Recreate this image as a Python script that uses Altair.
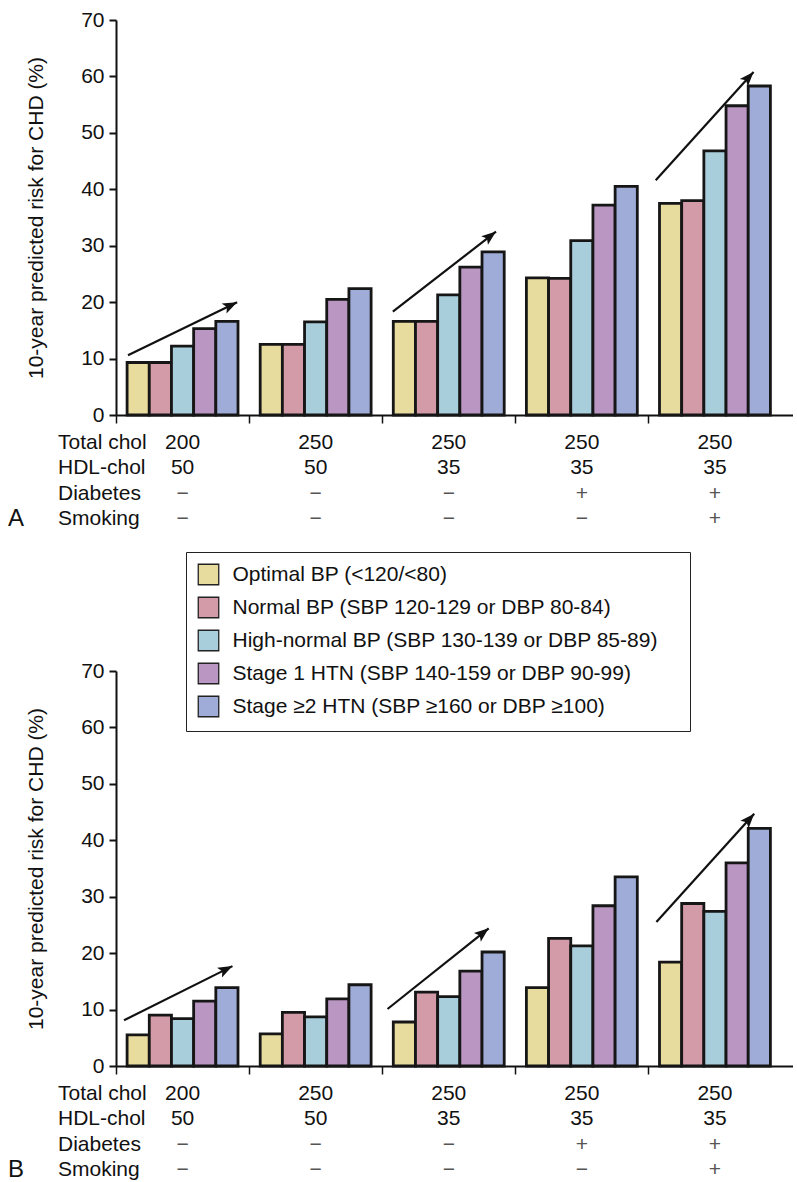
import math
import altair as alt
import pandas as pd

# ---------------- data ----------------
groups = ["1", "2", "3", "4", "5"]
series = [
    "Optimal BP (<120/<80)",
    "Normal BP (SBP 120-129 or DBP 80-84)",
    "High-normal BP (SBP 130-139 or DBP 85-89)",
    "Stage 1 HTN (SBP 140-159 or DBP 90-99)",
    "Stage \u22652 HTN (SBP \u2265160 or DBP \u2265100)",
]
colors = ["#E8DB9E", "#D39BA8", "#A8CEDC", "#BA96C2", "#9FACD8"]

a_optimal = [9.3, 12.5, 16.6, 24.3, 37.5]
a_normal = [9.3, 12.5, 16.6, 24.2, 38.0]
a_highnormal = [12.2, 16.5, 21.3, 30.9, 46.8]
a_stage1 = [15.3, 20.5, 26.2, 37.2, 54.8]
a_stage2 = [16.6, 22.4, 28.9, 40.5, 58.3]

b_optimal = [5.5, 5.7, 7.8, 13.9, 18.4]
b_normal = [9.0, 9.5, 13.1, 22.6, 28.8]
b_highnormal = [8.4, 8.7, 12.3, 21.3, 27.4]
b_stage1 = [11.5, 11.9, 16.8, 28.4, 36.0]
b_stage2 = [13.9, 14.4, 20.2, 33.5, 42.1]

# arrows: start/end in (group units, risk %)
a_arrow_x0 = [0.09, 2.08, 4.055]
a_arrow_y0 = [10.6, 18.3, 41.6]
a_arrow_x1 = [0.91, 2.855, 4.79]
a_arrow_y1 = [20.0, 32.5, 60.8]

b_arrow_x0 = [0.06, 2.04, 4.06]
b_arrow_y0 = [8.1, 10.1, 25.5]
b_arrow_x1 = [0.875, 2.80, 4.795]
b_arrow_y1 = [17.7, 24.4, 44.7]

row_labels = ["Total chol", "HDL-chol", "Diabetes", "Smoking"]
total_chol = ["200", "250", "250", "250", "250"]
hdl_chol = ["50", "50", "35", "35", "35"]
diabetes = ["\u2212", "\u2212", "\u2212", "+", "+"]
smoking = ["\u2212", "\u2212", "\u2212", "\u2212", "+"]

y_ticks = [0, 10, 20, 30, 40, 50, 60, 70]
YT = "10-year predicted risk for CHD (%)"

# ---------------- layout constants ----------------
W = 677
H = 395
OUTER = 0.0432
XMAX = len(groups) + 2 * OUTER
FONT = "Liberation Sans"
FS = 21
INK = "#111111"


def group_scale():
    return alt.Scale(type="band", domain=groups, paddingInner=0, paddingOuter=OUTER, align=0)


def bar_df(lists):
    rows = []
    for s, vals in zip(series, lists):
        for g, v in zip(groups, vals):
            rows.append({"group": g, "bp": s, "risk": v})
    return pd.DataFrame(rows)


def arrow_df(x0, y0, x1, y1):
    gx = W / XMAX
    gy = H / 70.0
    ang = [math.degrees(math.atan2((b - a) * gx, (d - c) * gy))
           for a, b, c, d in zip(x0, x1, y0, y1)]
    return pd.DataFrame({"x0": x0, "y0": y0, "x1": x1, "y1": y1, "angle": ang})


def bars_chart(df, arrows, legend):
    yscale = alt.Scale(domain=[0, 70], nice=False)
    xq = alt.Scale(domain=[0, XMAX], nice=False, zero=False)
    bars = alt.Chart(df).mark_bar(stroke="#161616", strokeWidth=2.8).encode(
        x=alt.X("group:N", scale=group_scale(),
                axis=alt.Axis(labels=False, title=None, tickSize=8, tickWidth=1.5,
                              bandPosition=0, domainWidth=2, grid=False)),
        xOffset=alt.XOffset("bp:N", sort=series,
                            scale=alt.Scale(domain=series, paddingInner=0, paddingOuter=0.5)),
        y=alt.Y("risk:Q", scale=yscale, title=YT, axis=alt.Axis(values=y_ticks)),
        color=alt.Color("bp:N", sort=series,
                        scale=alt.Scale(domain=series, range=colors), legend=legend),
    )
    line = alt.Chart(arrows).mark_rule(color=INK, strokeWidth=2.2).encode(
        x=alt.X("x0:Q", scale=xq, axis=None),
        x2="x1:Q",
        y=alt.Y("y0:Q", scale=yscale, title=YT, axis=alt.Axis(values=y_ticks)),
        y2="y1:Q",
    )
    head = alt.Chart(arrows).mark_point(
        shape="M0,0 L0.8,2.1 L0,1.65 L-0.8,2.1 Z", filled=True, size=190,
        color=INK, opacity=1, strokeWidth=0,
    ).encode(
        x=alt.X("x1:Q", scale=xq, axis=None),
        y=alt.Y("y1:Q", scale=yscale, title=YT, axis=alt.Axis(values=y_ticks)),
        angle=alt.Angle("angle:Q", scale=None),
    )
    return alt.layer(bars, line, head).resolve_scale(x="independent").properties(
        width=W, height=H)


def table_chart(letter):
    recs = []
    for r, vals in zip(row_labels, [total_chol, hdl_chol, diabetes, smoking]):
        for g, v in zip(groups, vals):
            recs.append({"row": r, "group": g, "value": v})
    df = pd.DataFrame(recs)
    yrow = alt.Y("row:N", sort=row_labels,
                 scale=alt.Scale(type="band", domain=row_labels, paddingInner=0, paddingOuter=0),
                 axis=None)
    vals = alt.Chart(df).mark_text(fontSize=FS, baseline="middle").encode(
        x=alt.X("group:N", scale=group_scale(), axis=None),
        y=yrow,
        text="value:N",
        color=alt.condition("datum.row == 'Diabetes' || datum.row == 'Smoking'",
                            alt.value("#555555"), alt.value(INK)),
    )
    labels = alt.Chart(pd.DataFrame({"row": row_labels})).mark_text(
        align="left", baseline="middle", fontSize=FS, color=INK).encode(
        x=alt.value(-58), y=yrow, text="row:N")
    let = alt.Chart(pd.DataFrame({"row": [row_labels[-1]], "t": [letter]})).mark_text(
        align="left", baseline="middle", fontSize=24, color=INK).encode(
        x=alt.value(-108), y=yrow, text="t:N")
    return alt.layer(vals, labels, let).properties(width=W, height=102)


legend_b = alt.Legend(
    title="\u00a0", titleOrient="right", titlePadding=20, titleFontSize=6,
    orient="none", legendX=70, legendY=-119, direction="vertical",
    symbolType="square", symbolSize=420, symbolStrokeColor="#222222",
    symbolStrokeWidth=1.3, symbolOpacity=1, labelFontSize=FS, labelColor=INK,
    labelOffset=13, rowPadding=7, padding=11.5, strokeColor="#222222",
    fillColor="white", labelLimit=700,
)

panel_a = alt.vconcat(
    bars_chart(bar_df([a_optimal, a_normal, a_highnormal, a_stage1, a_stage2]),
               arrow_df(a_arrow_x0, a_arrow_y0, a_arrow_x1, a_arrow_y1), None),
    table_chart("A"), spacing=5,
).resolve_scale(color="independent")

panel_b = alt.vconcat(
    bars_chart(bar_df([b_optimal, b_normal, b_highnormal, b_stage1, b_stage2]),
               arrow_df(b_arrow_x0, b_arrow_y0, b_arrow_x1, b_arrow_y1), legend_b),
    table_chart("B"), spacing=5,
).resolve_scale(color="independent")

chart = alt.vconcat(panel_a, panel_b, spacing=19).resolve_scale(color="independent")

chart = chart.configure(
    font=FONT, padding={"left": 8, "top": 9, "right": 0, "bottom": 0}
).configure_view(stroke=None).configure_axis(
    domainColor=INK, tickColor=INK, labelColor=INK, titleColor=INK,
    labelFont=FONT, titleFont=FONT, grid=False,
).configure_axisY(
    labelFontSize=FS, labelPadding=5, tickSize=7, tickWidth=2, domainWidth=2,
    titleFontSize=FS, titleFontWeight="normal", titlePadding=34,
)

chart.save("out.html", embed_options={"renderer": "svg", "actions": False})
